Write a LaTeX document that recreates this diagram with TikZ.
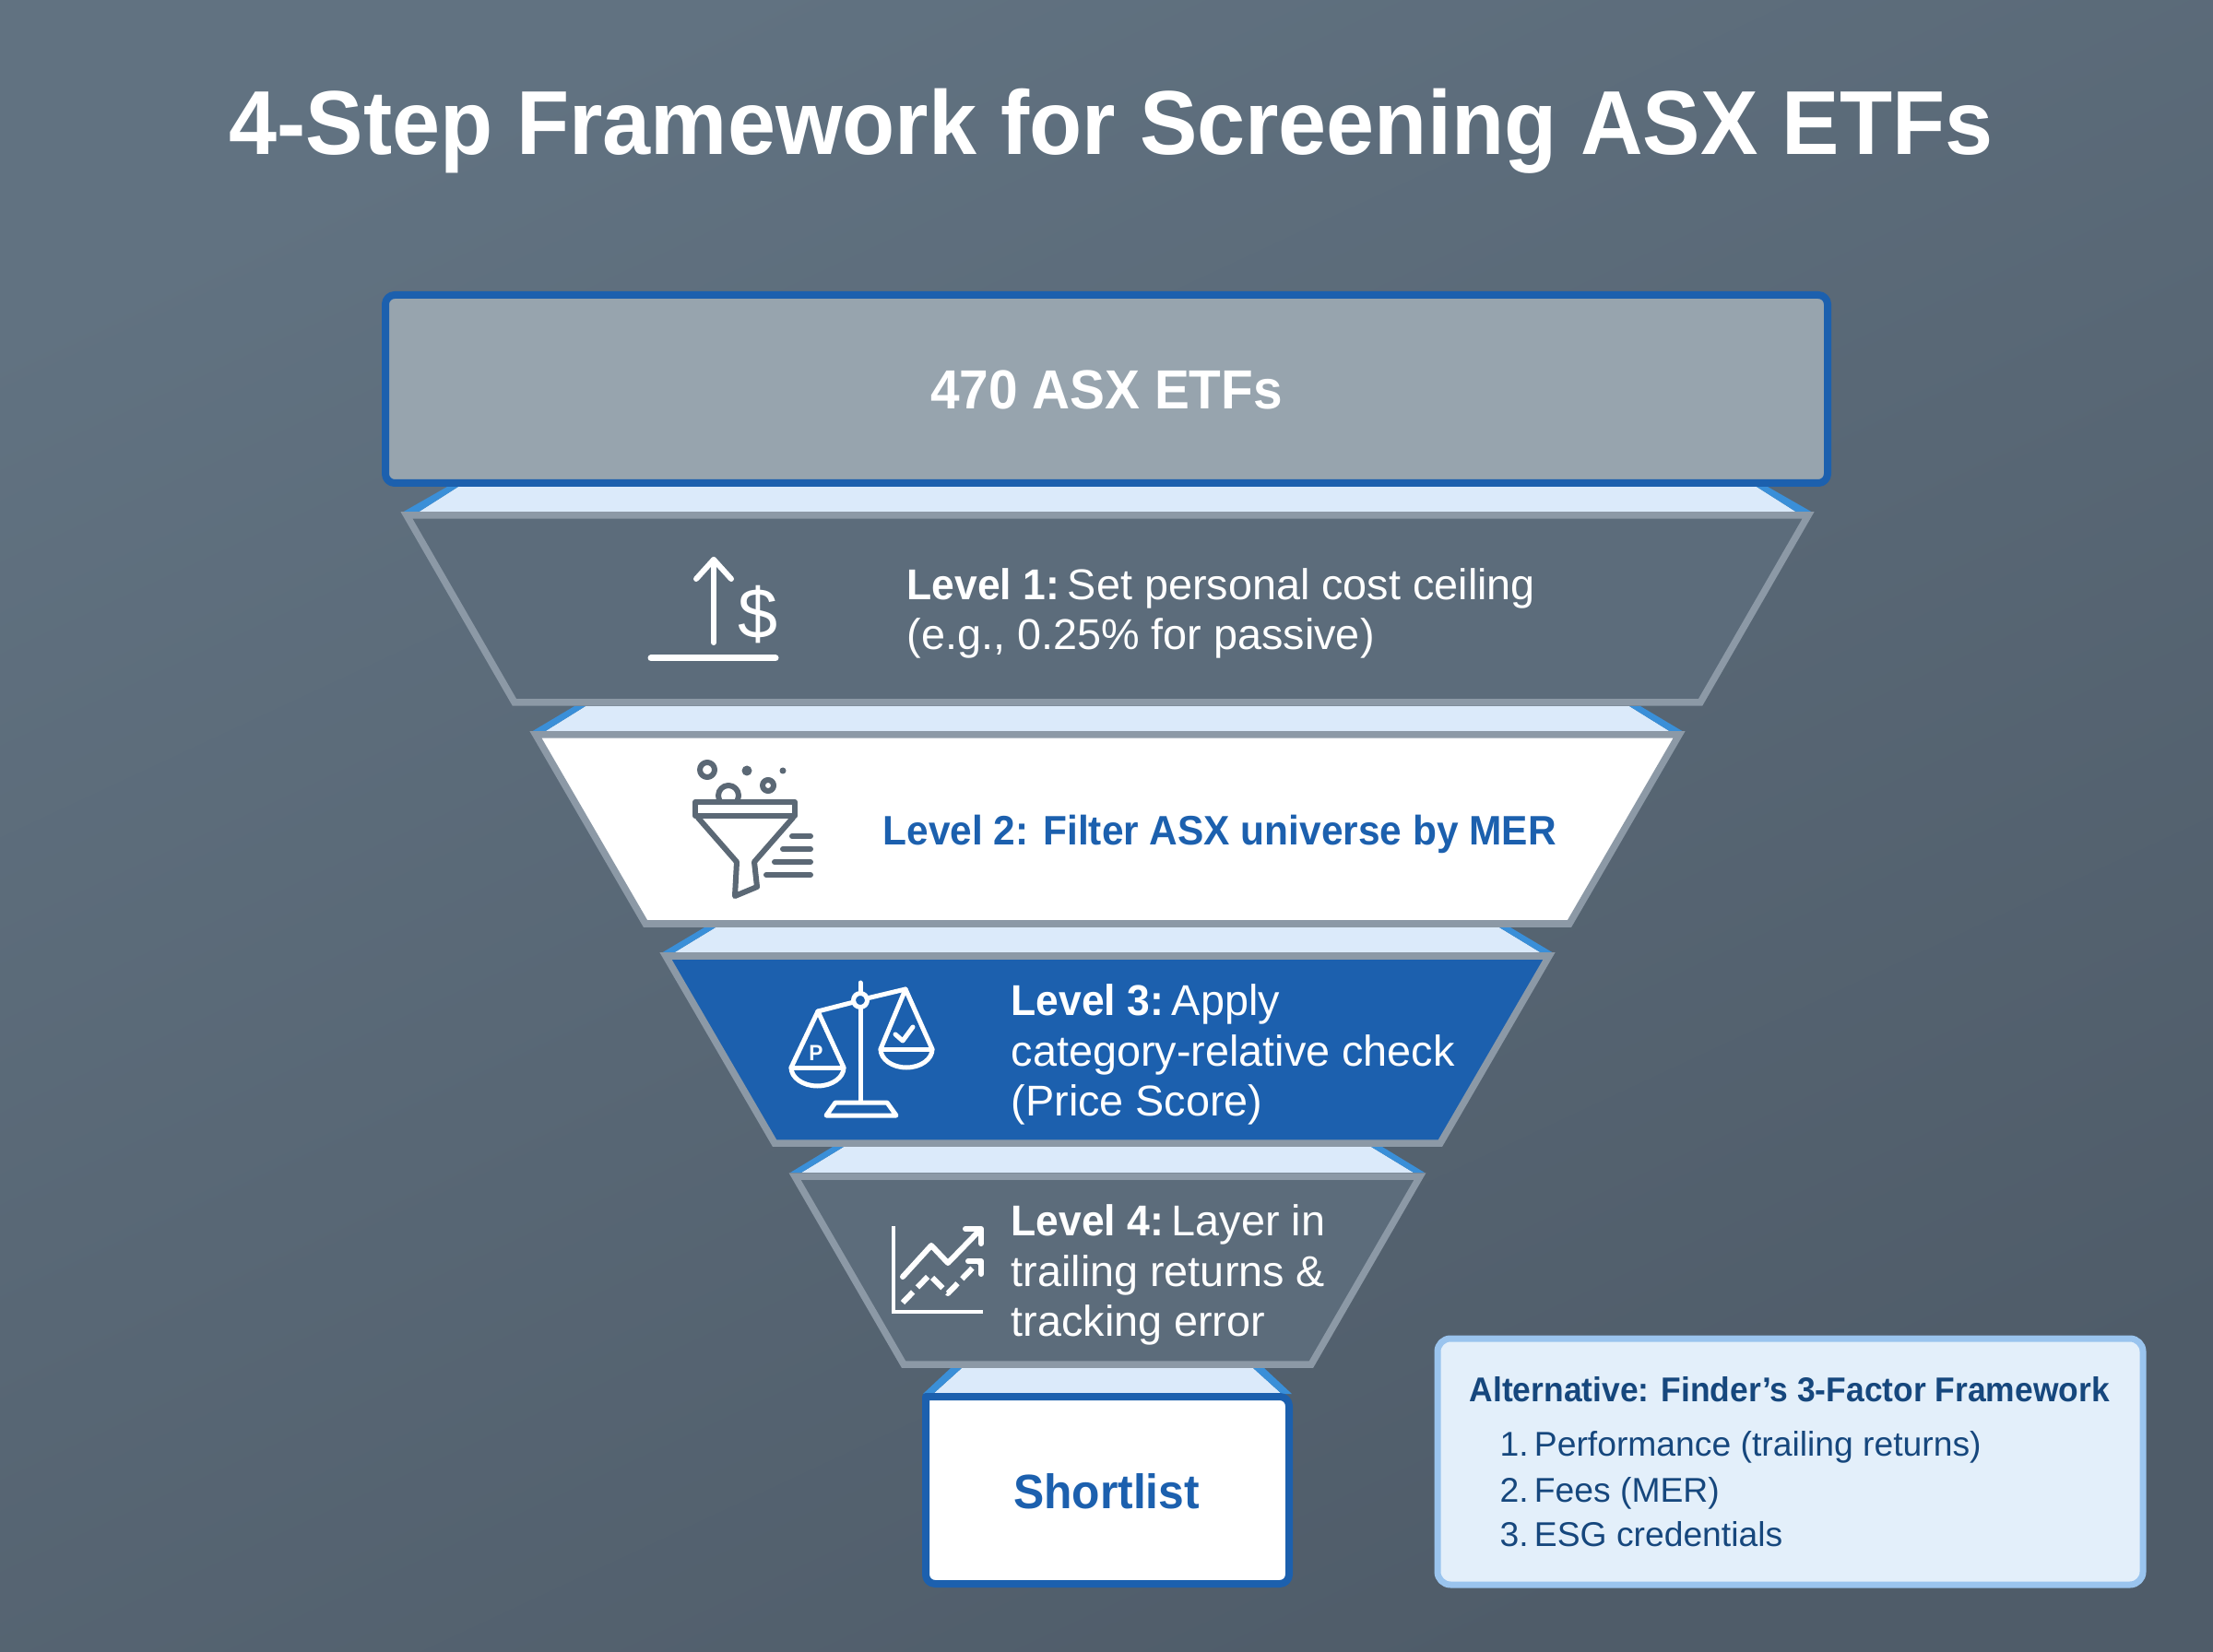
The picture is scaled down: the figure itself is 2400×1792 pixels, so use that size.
\documentclass[tikz,border=0pt]{standalone}
\usepackage{fontspec}
\usepackage{xcolor}
\setmainfont[BoldFeatures={FakeStretch=0.95}]{Liberation Sans}
\usetikzlibrary{arrows.meta}
\definecolor{bgtop}{HTML}{617281}
\definecolor{bgbot}{HTML}{4F5C69}
\definecolor{gr}{HTML}{97A4AE}
\definecolor{slate}{HTML}{5C6C7B}
\definecolor{edgegr}{HTML}{8C99A6}
\definecolor{deepbl}{HTML}{1C60AE}
\definecolor{skybl}{HTML}{3A8FD8}
\definecolor{palebl}{HTML}{DBEAFA}
\definecolor{notebl}{HTML}{E3EFFA}
\definecolor{noteedge}{HTML}{9AC4EE}
\definecolor{inkbl}{HTML}{16477D}
\definecolor{iconink}{HTML}{5B6875}
% one light wedge under a funnel level
\newcommand{\funnelband}[5]{
    \fill[palebl] (#3, #1) -- (#5, #2) -- ({2402-#5}, #2) -- ({2402-#3}, #1) -- cycle;
    \fill[skybl] ({#3-12}, #1) -- (#3, #1) -- (#5, #2) -- (#4, #2) -- cycle;
    \fill[skybl] ({2402-#3+12}, #1) -- ({2402-#3}, #1) -- ({2402-#5}, #2) -- ({2402-#4}, #2) -- cycle;
}
\newcommand{\levelhead}[1]{\textbf{#1:}\kern-1.2pt\ }
\newcommand{\itemno}[1]{#1.\kern-1.2pt\ }
\begin{document}
\begin{tikzpicture}[
            x = 0.01cm, % one unit is one pixel of the reference
            y = -0.01cm,
            line cap = round,
            line join = round
        ]

        \tikzset{
            leveltext/.style = {anchor = west, inner sep = 0pt, align = left, font = \fontsize{13.3}{15.4}\selectfont},
            darklevel/.style = {draw = edgegr, fill = slate, line width = 0.075cm, line join = miter},
            topbox/.style = {draw = deepbl, line width = 0.08cm, rounded corners = 0.1cm},
            notetext/.style = {anchor = base west, inner sep = 0pt, text = inkbl, font = \fontsize{10.6}{13}\selectfont},
            iconline/.style = {line width = 0.06cm},
            scaleline/.style = {line width = 0.05cm}
        }

        \useasboundingbox (0, 0) rectangle (2400, 1792);
        \shade[shading = axis, bottom color = bgbot, top color = bgtop, shading angle = 25] (0, 0) rectangle (2400, 1792);

        \node[anchor = base, inner sep = 0pt, text = white, font = \fontsize{28}{30}\selectfont\bfseries] (title) [at={(1205, 168)}] {4-Step Framework for Screening ASX ETFs};

        %light wedges
        \funnelband{528}{556}{497}{436}{453}
        \funnelband{766}{794}{635}{576}{590}
        \funnelband{1006}{1034}{776}{717}{730}
        \funnelband{1244}{1272}{915}{857}{869}
        \funnelband{1484}{1512}{1043}{1001}{1012}

        %funnel levels
        \draw[topbox, fill = gr] (418, 320) rectangle (1982, 524);
        \draw[darklevel] (441, 559) -- (1961, 559) -- (1844, 762) -- (558, 762) -- cycle;
        \draw[darklevel, fill = white] (581, 797) -- (1821, 797) -- (1702, 1002) -- (700, 1002) -- cycle;
        \draw[darklevel, fill = deepbl] (722, 1037) -- (1680, 1037) -- (1562, 1240) -- (840, 1240) -- cycle;
        \draw[darklevel] (862, 1276) -- (1540, 1276) -- (1422, 1480) -- (980, 1480) -- cycle;
        \draw[topbox, fill = white] (1004, 1515) -- (1398, 1515) [rounded corners = 0.1cm] -- (1398, 1718) -- (1004, 1718) [sharp corners] -- cycle;
        \draw[draw = noteedge, fill = notebl, line width = 0.07cm, rounded corners = 0.14cm] (1559, 1452) rectangle (2324, 1719);

        %level texts
        \node[anchor = base, inner sep = 0pt, text = white, font = \fontsize{17}{20}\selectfont\bfseries] (top) [at={(1200, 444)}] {470 ASX ETFs};
        \node[leveltext, text = white] (one) [at={(983, 665)}] {\levelhead{Level 1}Set personal cost ceiling\\(e.g., 0.25\% for passive)};
        \node[leveltext, text = deepbl, font = \fontsize{12.7}{15.4}\selectfont\bfseries] (two) [at={(957, 905)}] {Level 2: Filter ASX universe by MER};
        \node[leveltext, text = white] (three) [at={(1096, 1144)}] {\levelhead{Level 3}Apply\\category-relative check\\(Price Score)};
        \node[leveltext, text = white] (four) [at={(1096, 1383)}] {\levelhead{Level 4}Layer in\\trailing returns \&\\tracking error};
        \node[anchor = base, inner sep = 0pt, text = deepbl, font = \fontsize{14.9}{17}\selectfont\bfseries] (last) [at={(1200, 1636)}] {Shortlist};

        %note box
        \node[notetext, font = \fontsize{10.6}{13}\selectfont\bfseries] (alt) [at={(1593, 1520)}] {Alternative: Finder’s 3-Factor Framework};
        \node[notetext] (perf) [at={(1626, 1579)}] {\itemno{1}Performance (trailing returns)};
        \node[notetext] (fees) [at={(1626, 1629)}] {\itemno{2}Fees (MER)};
        \node[notetext] (esg) [at={(1626, 1677)}] {\itemno{3}ESG credentials};

        %icon level 1
        \draw[white, iconline] (774, 697) -- (774, 607);
        \draw[white, iconline] (755, 628) -- (774, 607) -- (793, 628);
        \draw[white, line width = 0.07cm] (706, 714) -- (841, 714);
        \node[inner sep = 0pt, text = white, font = \fontsize{22}{24}\selectfont] (dollar) [at={(822, 667)}] {\$};

        %icon level 2
        \draw[iconink, iconline, fill = white] (790, 863) circle[radius = 11];
        \draw[iconink, iconline, fill = white] (754, 870) rectangle (862, 885);
        \draw[iconink, iconline] (757, 887) -- (799, 935) -- (797, 972) -- (821, 962) -- (818, 935) -- (860, 887);
        \draw[iconink, iconline] (767, 835) circle[radius = 8];
        \draw[iconink, iconline] (833, 852) circle[radius = 6];
        \fill[iconink] (810, 836) circle[radius = 5.5];
        \fill[iconink] (849, 836) circle[radius = 3.5];
        \draw[iconink, iconline] (859, 907) -- (879, 907);
        \draw[iconink, iconline] (849, 921) -- (879, 921);
        \draw[iconink, iconline] (840, 935) -- (879, 935);
        \draw[iconink, iconline] (831, 949) -- (879, 949);

        %icon level 3
        \draw[white, scaleline] (933, 1066) -- (933, 1077);
        \draw[white, scaleline] (933, 1093) -- (933, 1195);
        \draw[white, scaleline] (887, 1097) -- (926, 1087);
        \draw[white, scaleline] (940, 1083) -- (982, 1073);
        \draw[white, scaleline] (933, 1085) circle[radius = 7.5];
        \draw[white, scaleline] (858, 1158) -- (887, 1097) -- (915, 1158) arc[start angle = 0, end angle = -180, x radius = 28.5, y radius = -20] -- cycle;
        \draw[white, scaleline] (858, 1158) -- (915, 1158);
        \draw[white, scaleline] (955, 1138) -- (982, 1073) -- (1011, 1138) arc[start angle = 0, end angle = -180, x radius = 28, y radius = -20] -- cycle;
        \draw[white, scaleline] (955, 1138) -- (1011, 1138);
        \draw[white, scaleline] (896, 1210) -- (972, 1210) -- (962, 1196) -- (906, 1196) -- cycle;
        \draw[white, scaleline] (971, 1122) -- (979, 1129) -- (990, 1114);
        \node[inner sep = 0pt, text = white, font = \fontsize{6.8}{8}\selectfont\bfseries] (pee) [at={(885, 1142)}] {P};

        %icon level 4
        \draw[white, line width = 0.045cm, line join = miter, line cap = butt] (969, 1330) -- (969, 1423) -- (1066, 1423);
        \draw[white, iconline] (979, 1385) -- (1010, 1351) -- (1028, 1370) -- (1063, 1334);
        \draw[white, iconline] (1047, 1333) -- (1064, 1333) -- (1064, 1349);
        \draw[white, iconline, line cap = butt, dash pattern = on 0.16cm off 0.07cm] (979, 1413) -- (1008, 1383) -- (1028, 1403) -- (1060, 1370);
        \draw[white, iconline] (1050, 1368) -- (1064, 1368) -- (1064, 1382);

    \end{tikzpicture}
\end{document}
